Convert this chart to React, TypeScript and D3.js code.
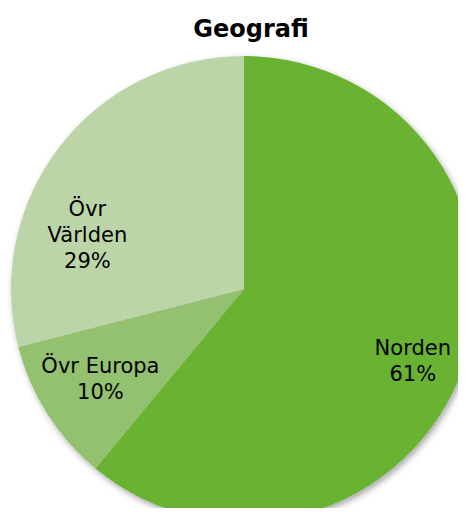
import { useEffect, useRef } from 'react'
import * as d3 from 'd3'

const regions = ['Norden', 'Övr Europa', 'Övr Världen']
const shares = [61, 10, 29]
const labelLines = [['Norden', '61%'], ['Övr Europa', '10%'], ['Övr', 'Världen', '29%']]
const colors = ['#6bb233', '#93c16f', '#bcd5a8']

export default function App() {
  const svgRef = useRef<SVGSVGElement>(null)

  useEffect(() => {
    if (!svgRef.current) return
    const width = 466
    const height = 516
    const cx = 244
    const cy = 289
    const radius = 233
    const font = 'DejaVu Sans, Verdana, sans-serif'

    d3.select(svgRef.current).selectAll('*').remove()
    const svg = d3.select(svgRef.current)
      .attr('width', width)
      .attr('height', height)

    // soft shadow under the pie
    const filter = svg.append('defs').append('filter')
      .attr('id', 'shadow')
      .attr('x', '-10%').attr('y', '-10%')
      .attr('width', '120%').attr('height', '120%')
    filter.append('feDropShadow')
      .attr('dx', 2).attr('dy', 3)
      .attr('stdDeviation', 3)
      .attr('flood-color', '#000')
      .attr('flood-opacity', 0.35)

    svg.append('text')
      .attr('x', 251)
      .attr('y', 37)
      .attr('text-anchor', 'middle')
      .attr('font-family', font)
      .attr('font-weight', 'bold')
      .attr('font-size', '24px')
      .attr('fill', '#000')
      .text('Geografi')

    const data = regions.map((r, i) => ({ region: r, value: shares[i], lines: labelLines[i], color: colors[i] }))
    const pie = d3.pie<typeof data[number]>().value(d => d.value).sort(null)
    const arc = d3.arc<d3.PieArcDatum<typeof data[number]>>().innerRadius(0).outerRadius(radius)

    const g = svg.append('g').attr('transform', `translate(${cx},${cy})`)
    const arcs = pie(data)

    g.append('g')
      .attr('filter', 'url(#shadow)')
      .selectAll('path')
      .data(arcs)
      .join('path')
      .attr('d', arc)
      .attr('fill', d => d.data.color)

    // best-fit label placement: radius fraction and angle nudge (degrees)
    const fit: Record<string, [number, number]> = {
      'Norden': [0.79, 3.7],
      'Övr Europa': [0.73, 0],
      'Övr Världen': [0.71, -19],
    }

    const lineH = 26
    arcs.forEach(a => {
      const [f, shift] = fit[a.data.region]
      const ang = (a.startAngle + a.endAngle) / 2 + (shift * Math.PI) / 180
      const lx = Math.sin(ang) * radius * f
      const ly = -Math.cos(ang) * radius * f
      const n = a.data.lines.length
      const t = g.append('text')
        .attr('text-anchor', 'middle')
        .attr('font-family', font)
        .attr('font-size', '21px')
        .attr('fill', '#000')
      a.data.lines.forEach((line, i) => {
        t.append('tspan')
          .attr('x', lx)
          .attr('y', ly + (i - (n - 1) / 2) * lineH + 6)
          .text(line)
      })
    })
  }, [])

  return (
    <div style={{ margin: -8 }}>
      <svg ref={svgRef} style={{ display: 'block' }}></svg>
    </div>
  )
}
